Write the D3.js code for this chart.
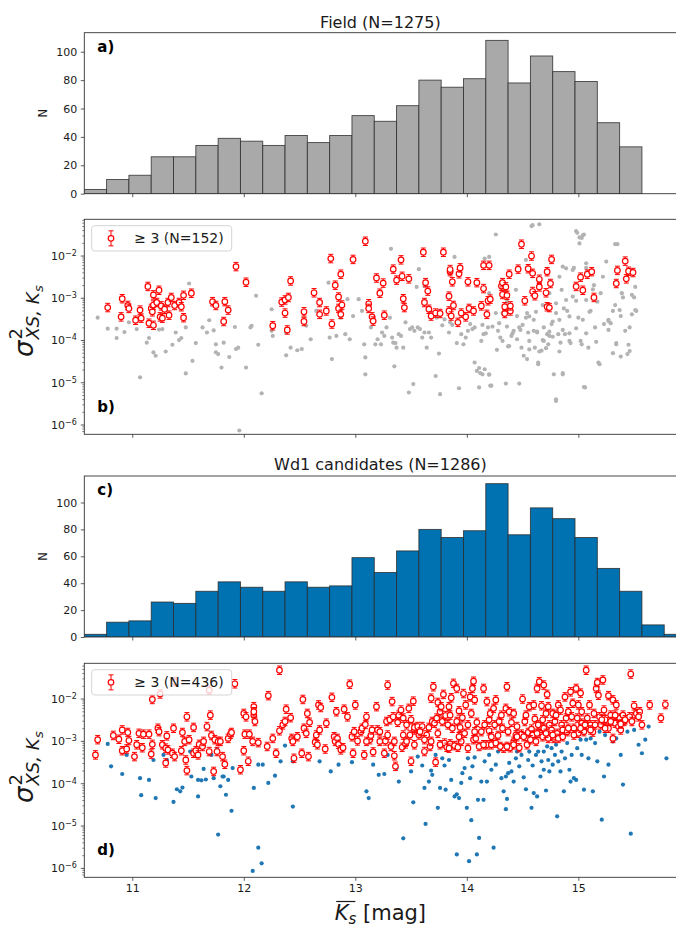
<!DOCTYPE html>
<html><head><meta charset="utf-8">
<script src="https://cdn.jsdelivr.net/npm/d3@7"></script>
<style>body{margin:0;background:#fff} svg{display:block;font-family:"DejaVu Sans",sans-serif}</style>
</head><body><svg id="chart" width="676" height="930"></svg>
<script>
// ---------------- DATA ----------------
const binStart = 10.57, binWidth = 0.2;
const fieldCounts = [3,10,13,26,26,34,39,37,34,41,36,41,55,51,62,80,75,81,108,78,97,86,79,50,33];
const wd1Counts = [2,11,12,26,25,34,41,37,34,41,37,38,59,48,64,80,74,79,114,76,96,88,74,51,34,9,2];
const xTicks = [11,12,13,14,15];
const histTicks = [0,20,40,60,80,100];
const logTickExps = [-6,-5,-4,-3,-2];
const titles = ["Field (N=1275)", "Wd1 candidates (N=1286)"];
const legendLabels = ["\u2265 3 (N=152)", "\u2265 3 (N=436)"];
const errDex = 0.1; // error bar half length (dex)

// [Ks mag, log10 sigma^2]
const fieldRed = [[10.78,-3.22],[10.90,-3.44],[10.91,-3.01],[10.96,-3.17],[10.97,-3.24],[11.03,-3.52],[11.07,-3.28],[11.08,-3.47],[11.14,-2.72],[11.15,-3.59],[11.17,-3.24],[11.18,-3.32],[11.19,-2.92],[11.19,-3.16],[11.19,-3.64],[11.22,-3.10],[11.24,-2.81],[11.25,-3.44],[11.26,-3.18],[11.27,-3.47],[11.29,-3.26],[11.32,-3.10],[11.33,-3.40],[11.35,-2.98],[11.38,-3.17],[11.42,-3.10],[11.44,-3.20],[11.46,-2.93],[11.46,-3.46],[11.53,-2.88],[11.72,-3.08],[11.75,-3.17],[11.83,-3.08],[11.82,-3.55],[11.86,-3.28],[11.93,-2.25],[12.02,-2.62],[12.26,-3.65],[12.37,-3.35],[12.34,-3.09],[12.37,-3.04],[12.40,-2.98],[12.39,-3.75],[12.42,-2.59],[12.54,-3.32],[12.54,-3.55],[12.63,-2.87],[12.68,-3.10],[12.68,-3.38],[12.74,-3.30],[12.78,-2.06],[12.79,-3.61],[12.82,-2.69],[12.85,-2.97],[12.85,-3.24],[12.87,-2.43],[12.87,-3.38],[12.88,-3.16],[12.98,-2.08],[13.09,-1.65],[13.12,-3.13],[13.12,-3.24],[13.15,-3.44],[13.16,-3.54],[13.19,-2.52],[13.22,-2.88],[13.25,-2.64],[13.26,-3.40],[13.34,-2.31],[13.37,-2.57],[13.41,-2.09],[13.42,-2.48],[13.43,-3.01],[13.44,-3.22],[13.48,-2.54],[13.61,-1.91],[13.62,-3.10],[13.63,-2.63],[13.65,-2.83],[13.66,-3.26],[13.68,-3.42],[13.72,-3.35],[13.76,-3.36],[13.79,-1.91],[13.84,-2.95],[13.85,-2.37],[13.85,-2.32],[13.84,-3.30],[13.86,-3.42],[13.87,-2.61],[13.88,-3.17],[13.93,-2.42],[13.94,-2.28],[13.92,-3.57],[13.95,-3.35],[13.99,-3.44],[14.01,-2.61],[14.02,-3.24],[14.06,-3.30],[14.09,-2.63],[14.13,-3.18],[14.15,-2.77],[14.15,-2.22],[14.18,-3.38],[14.20,-2.22],[14.19,-3.06],[14.21,-3.02],[14.31,-2.71],[14.32,-2.63],[14.32,-2.91],[14.34,-3.36],[14.35,-2.73],[14.34,-3.20],[14.36,-2.93],[14.38,-2.43],[14.39,-3.30],[14.39,-3.18],[14.46,-2.31],[14.49,-1.72],[14.52,-3.06],[14.55,-2.30],[14.58,-2.00],[14.59,-2.41],[14.59,-2.84],[14.61,-2.94],[14.65,-2.55],[14.65,-2.73],[14.71,-2.87],[14.72,-2.37],[14.72,-3.20],[14.74,-3.22],[14.75,-2.65],[14.76,-2.08],[14.98,-2.72],[15.02,-2.50],[15.04,-2.81],[15.08,-2.43],[15.12,-2.37],[15.14,-2.98],[15.34,-2.65],[15.35,-2.34],[15.43,-2.54],[15.42,-2.12],[15.45,-2.36],[15.49,-2.39]];

const fieldGray = [[10.69,-3.46],[10.78,-3.72],[10.86,-3.72],[10.86,-3.94],[10.93,-3.80],[10.97,-3.57],[11.04,-3.73],[11.07,-4.87],[11.13,-4.05],[11.15,-3.94],[11.19,-4.28],[11.21,-4.36],[11.24,-3.74],[11.27,-3.73],[11.30,-4.26],[11.36,-4.10],[11.39,-3.81],[11.42,-3.99],[11.44,-3.94],[11.48,-4.78],[11.48,-3.69],[11.51,-2.65],[11.54,-4.48],[11.57,-4.06],[11.63,-3.69],[11.67,-3.81],[11.69,-3.52],[11.73,-3.76],[11.75,-4.09],[11.75,-4.28],[11.77,-4.32],[11.80,-4.64],[11.82,-4.05],[11.87,-4.39],[11.92,-3.68],[11.93,-4.20],[11.95,-4.17],[11.96,-6.13],[12.02,-4.64],[12.06,-3.69],[12.07,-3.65],[12.11,-2.94],[12.13,-4.10],[12.16,-5.25],[12.25,-3.77],[12.26,-3.89],[12.25,-3.26],[12.38,-3.81],[12.38,-4.35],[12.42,-4.17],[12.48,-4.23],[12.52,-4.20],[12.56,-3.65],[12.60,-3.97],[12.65,-3.30],[12.76,-2.63],[12.77,-3.93],[12.79,-4.44],[12.83,-3.89],[12.87,-3.46],[12.91,-3.85],[12.93,-3.02],[12.95,-3.97],[12.98,-3.42],[13.03,-3.02],[13.06,-3.30],[13.08,-4.09],[13.09,-4.40],[13.09,-4.80],[13.14,-3.69],[13.18,-4.09],[13.20,-3.97],[13.23,-4.09],[13.24,-3.81],[13.26,-3.89],[13.28,-3.69],[13.31,-3.46],[13.32,-1.83],[13.33,-3.93],[13.34,-4.05],[13.35,-4.61],[13.36,-4.06],[13.37,-4.17],[13.39,-3.85],[13.41,-3.89],[13.43,-4.17],[13.45,-3.57],[13.48,-5.23],[13.49,-3.73],[13.51,-3.69],[13.52,-5.03],[13.53,-3.77],[13.55,-2.73],[13.56,-3.69],[13.57,-2.31],[13.58,-3.73],[13.60,-3.93],[13.62,-2.71],[13.62,-3.81],[13.64,-4.17],[13.66,-3.81],[13.68,-3.93],[13.72,-4.84],[13.73,-3.46],[13.75,-4.31],[13.76,-5.27],[13.78,-3.64],[13.80,-3.50],[13.84,-3.81],[13.85,-3.57],[13.87,-3.63],[13.89,-2.02],[13.91,-4.06],[13.93,-5.13],[13.95,-3.85],[13.97,-4.09],[13.99,-3.93],[14.01,-3.77],[14.03,-3.61],[14.05,-3.73],[14.07,-3.69],[14.07,-4.52],[14.09,-4.72],[14.11,-5.11],[14.13,-4.01],[14.14,-4.80],[14.15,-3.85],[14.16,-2.06],[14.16,-4.68],[14.19,-3.69],[14.20,-4.80],[14.22,-5.07],[14.26,-1.49],[14.28,-3.77],[14.30,-3.93],[14.32,-4.01],[14.35,-5.02],[14.37,-4.14],[14.40,-3.89],[14.42,-3.77],[14.45,-3.42],[14.45,-3.97],[14.47,-5.02],[14.47,-3.69],[14.49,-4.17],[14.51,-4.36],[14.53,-3.46],[14.55,-3.81],[14.56,-4.01],[14.58,-1.29],[14.60,-3.77],[14.61,-4.17],[14.63,-3.81],[14.64,-4.56],[14.65,-1.25],[14.67,-4.24],[14.69,-4.01],[14.69,-3.69],[14.72,-3.85],[14.73,-4.09],[14.74,-3.89],[14.76,-3.61],[14.78,-4.80],[14.80,-5.43],[14.82,-3.85],[14.84,-4.05],[14.86,-4.80],[14.88,-3.85],[14.90,-3.30],[14.92,-4.01],[14.96,-2.28],[14.98,-3.06],[14.99,-1.45],[15.00,-3.46],[15.02,-4.01],[15.03,-1.57],[15.05,-1.49],[15.06,-5.11],[15.07,-2.28],[15.09,-4.17],[15.11,-3.30],[15.13,-2.79],[15.15,-3.69],[15.19,-4.56],[15.23,-3.61],[15.27,-3.54],[15.31,-3.30],[15.34,-4.09],[15.35,-1.72],[15.38,-3.42],[15.40,-2.98],[15.42,-3.77],[15.44,-4.32],[15.46,-3.69],[15.48,-3.38],[15.50,-2.98],[15.52,-3.30],
[14.59,-1.27],[14.98,-1.41],[15.01,-1.56],[15.04,-1.51],[15.01,-1.70],[15.33,-1.72],[14.20,-2.02],[14.53,-2.09],[14.47,-2.29],[14.86,-2.25],[14.89,-2.29],[14.95,-2.33],[15.07,-2.17],[15.25,-2.13],[15.22,-2.49],[15.14,-2.69],[15.20,-2.88],[15.39,-2.88],[15.51,-2.73],[15.51,-3.28],[15.48,-2.92],[15.33,-3.16],[15.27,-3.51],[15.29,-3.59],[15.27,-3.75],[15.37,-3.28],[15.34,-4.06],[15.45,-4.10],[15.46,-4.25],[15.38,-4.38],[15.31,-4.30],[15.18,-4.52],[15.16,-4.03],[15.07,-3.83],[15.03,-4.09],[14.93,-4.06],[14.83,-4.26],[14.86,-4.77],[14.80,-5.39],[15.05,-5.10],[14.65,-4.26],[14.71,-4.18],[14.64,-4.52],[14.54,-4.44],[14.56,-4.21],[14.38,-4.13],[14.27,-4.22],[14.21,-5.07],[14.20,-4.81],[14.11,-4.65],[14.12,-4.77],
[14.80,-3.35],[14.83,-3.51],[14.77,-3.55],[14.92,-3.43],[14.98,-3.71],[15.04,-3.51],[15.10,-3.32],[15.13,-3.00],[15.17,-3.08],[15.07,-3.04],[14.95,-2.96],[14.89,-3.04],[14.87,-3.24],[14.80,-3.12],[14.74,-2.88],[14.83,-2.49],[14.85,-2.80],[14.68,-3.16],[14.62,-3.32],[14.56,-3.43],[14.50,-3.63],[14.48,-3.75],[14.41,-3.83],[14.36,-3.67],[14.29,-3.59],[14.23,-3.67],[14.17,-3.83],[14.14,-3.63],[14.26,-3.35],[14.32,-3.35],[14.39,-3.28],[14.54,-3.35],[14.60,-3.51],[14.63,-3.79],[14.74,-3.79],[14.77,-3.91],[14.68,-3.99],[14.86,-3.75],[14.92,-3.83],[14.44,-2.80],[14.36,-3.08],[14.20,-2.88]];

const wd1Red = [[10.67,-3.32],[10.69,-2.96],[10.83,-2.86],[10.88,-2.95],[10.91,-2.73],[10.91,-3.22],[10.95,-3.18],[10.96,-2.79],[10.97,-2.98],[11.02,-3.36],[11.04,-3.08],[11.06,-2.81],[11.09,-3.15],[11.10,-2.83],[11.15,-2.83],[11.17,-3.30],[11.18,-3.07],[11.18,-2.01],[11.23,-2.69],[11.24,-2.77],[11.25,-1.88],[11.27,-3.08],[11.30,-3.16],[11.30,-3.51],[11.31,-2.87],[11.32,-3.20],[11.36,-3.28],[11.37,-2.69],[11.38,-3.36],[11.44,-3.22],[11.45,-2.79],[11.47,-3.00],[11.48,-3.44],[11.49,-2.42],[11.49,-3.69],[11.51,-2.96],[11.55,-3.28],[11.55,-2.67],[11.57,-3.22],[11.59,-3.32],[11.60,-3.07],[11.63,-3.12],[11.64,-3.00],[11.67,-2.65],[11.69,-3.24],[11.70,-2.38],[11.71,-2.86],[11.73,-3.71],[11.74,-2.96],[11.76,-3.24],[11.77,-3.00],[11.79,-3.00],[11.81,-3.36],[11.83,-3.54],[11.86,-2.93],[11.88,-2.83],[11.89,-2.79],[11.92,-1.64],[11.97,-3.67],[12.00,-3.22],[12.00,-2.34],[12.01,-2.83],[12.02,-2.42],[12.04,-3.47],[12.05,-2.83],[12.08,-3.00],[12.09,-2.18],[12.09,-2.38],[12.10,-2.53],[12.09,-2.30],[12.13,-3.03],[12.21,-3.12],[12.22,-1.92],[12.26,-2.93],[12.29,-3.28],[12.32,-1.32],[12.32,-2.75],[12.35,-2.61],[12.37,-2.53],[12.38,-2.24],[12.42,-2.44],[12.43,-2.93],[12.44,-3.00],[12.45,-3.40],[12.48,-2.89],[12.52,-3.28],[12.53,-2.01],[12.54,-2.69],[12.56,-2.81],[12.57,-2.34],[12.58,-3.36],[12.59,-2.55],[12.64,-3.02],[12.65,-2.85],[12.66,-3.08],[12.67,-2.14],[12.68,-2.73],[12.69,-2.20],[12.73,-3.18],[12.74,-2.57],[12.79,-1.96],[12.81,-2.89],[12.82,-3.00],[12.83,-2.30],[12.84,-2.93],[12.85,-3.07],[12.87,-3.20],[12.89,-3.15],[12.90,-2.24],[12.93,-2.42],[12.95,-1.65],[12.97,-2.89],[12.98,-3.28],[12.99,-2.77],[13.00,-2.14],[13.02,-2.99],[13.05,-2.77],[13.06,-2.69],[13.08,-3.32],[13.09,-2.60],[13.10,-2.42],[13.13,-2.96],[13.14,-2.86],[13.15,-2.73],[13.16,-3.25],[13.19,-2.18],[13.20,-2.73],[13.22,-3.00],[13.26,-3.28],[13.27,-2.99],[13.28,-2.53],[13.29,-1.67],[13.31,-2.49],[13.32,-3.12],[13.33,-2.06],[13.34,-2.42],[13.35,-3.34],[13.36,-3.59],[13.38,-2.55],[13.39,-2.38],[13.41,-2.26],[13.42,-3.14],[13.43,-2.45],[13.45,-3.06],[13.46,-2.61],[13.48,-2.22],[13.49,-2.85],[13.50,-2.49],[13.50,-3.47],[13.52,-2.05],[13.53,-2.73],[13.53,-2.67],[13.56,-2.65],[13.57,-2.85],[13.60,-2.65],[13.62,-3.24],[13.64,-2.85],[13.66,-2.67],[13.67,-3.12],[13.68,-1.98],[13.69,-2.53],[13.70,-1.71],[13.71,-2.57],[13.72,-3.49],[13.73,-2.45],[13.74,-2.08],[13.76,-2.30],[13.77,-2.18],[13.78,-2.53],[13.79,-1.89],[13.80,-3.04],[13.81,-2.39],[13.82,-3.14],[13.83,-2.61],[13.84,-2.18],[13.85,-2.38],[13.85,-3.06],[13.86,-1.97],[13.87,-2.69],[13.88,-1.63],[13.89,-3.10],[13.91,-1.75],[13.91,-2.53],[13.92,-3.14],[13.93,-2.28],[13.94,-2.67],[13.95,-3.00],[13.96,-2.44],[13.97,-1.87],[13.98,-2.81],[13.99,-2.14],[14.01,-2.61],[14.03,-1.95],[14.04,-2.34],[14.05,-1.75],[14.06,-2.96],[14.06,-1.58],[14.07,-2.02],[14.08,-2.93],[14.09,-2.55],[14.11,-3.12],[14.13,-2.77],[14.15,-1.75],[14.16,-2.61],[14.18,-3.08],[14.18,-2.06],[14.20,-2.49],[14.20,-2.75],[14.21,-2.34],[14.22,-3.08],[14.24,-2.22],[14.25,-2.61],[14.26,-2.02],[14.28,-2.86],[14.29,-2.53],[14.31,-2.38],[14.32,-2.69],[14.33,-3.16],[14.35,-2.22],[14.36,-1.71],[14.37,-2.77],[14.38,-2.30],[14.39,-3.15],[14.40,-2.55],[14.42,-2.34],[14.42,-3.00],[14.44,-2.85],[14.45,-2.65],[14.47,-3.15],[14.49,-2.83],[14.50,-2.00],[14.52,-2.53],[14.53,-2.38],[14.54,-3.08],[14.55,-2.79],[14.56,-2.18],[14.58,-2.71],[14.59,-2.85],[14.60,-2.14],[14.61,-2.47],[14.62,-3.00],[14.63,-1.75],[14.64,-2.61],[14.65,-1.59],[14.66,-2.81],[14.67,-2.16],[14.68,-2.49],[14.69,-1.67],[14.69,-2.69],[14.71,-2.34],[14.72,-1.89],[14.73,-2.93],[14.73,-2.18],[14.74,-2.61],[14.76,-2.73],[14.77,-2.34],[14.78,-2.93],[14.79,-2.53],[14.80,-2.38],[14.81,-2.81],[14.82,-2.14],[14.84,-2.26],[14.85,-2.61],[14.86,-2.73],[14.88,-1.95],[14.89,-2.45],[14.90,-2.77],[14.91,-2.30],[14.93,-1.83],[14.94,-2.42],[14.95,-2.10],[14.96,-2.69],[14.98,-1.75],[14.99,-2.45],[15.00,-2.81],[15.00,-2.14],[15.02,-1.86],[15.03,-2.57],[15.03,-2.30],[15.05,-2.77],[15.07,-1.32],[15.08,-2.45],[15.09,-2.65],[15.10,-2.14],[15.11,-2.61],[15.13,-2.78],[15.14,-2.34],[15.16,-1.75],[15.17,-1.61],[15.18,-1.91],[15.19,-2.42],[15.20,-2.61],[15.22,-1.55],[15.23,-2.26],[15.24,-2.49],[15.27,-1.92],[15.27,-2.69],[15.29,-2.38],[15.31,-2.93],[15.31,-2.02],[15.33,-2.57],[15.34,-2.14],[15.36,-2.65],[15.37,-2.45],[15.38,-2.73],[15.40,-2.38],[15.41,-2.53],[15.47,-1.41],[15.49,-2.42],[15.50,-2.16],[15.52,-2.34],[15.55,-2.30],[15.57,-2.61],[15.64,-2.14],[15.74,-2.45],[15.78,-2.13],[11.69,-1.79],[11.38,-1.59],
[13.76,-3.08],[13.84,-3.16],[13.93,-2.89],[14.01,-3.16],[14.07,-2.77],[14.15,-3.08],[14.22,-2.89],[14.26,-3.04],[14.30,-3.12],[14.36,-3.12],[14.42,-3.08],[14.45,-2.89],[14.51,-2.89],[14.57,-2.96],[14.63,-2.81],[14.68,-2.89],[14.71,-2.81],[14.77,-2.85],[14.82,-2.93],[14.86,-2.89],[14.91,-2.69],[14.96,-2.85],[15.02,-2.69],[15.06,-2.61],[15.11,-2.73],[15.15,-2.61],[15.21,-2.49],[15.24,-2.69],[15.29,-2.53],[15.33,-2.38],[15.38,-2.59],[15.42,-2.49],[15.46,-2.42],[15.48,-2.53],[15.54,-2.42],
[13.10,-3.00],[13.22,-2.77],[13.29,-2.85],[13.35,-3.00],[13.43,-2.85],[13.46,-3.00],[13.53,-3.08],[13.58,-2.77],[13.62,-2.96],[13.68,-3.00],[13.74,-2.81]];

const wd1Blue = [[10.78,-3.06],[10.81,-3.59],[10.91,-3.77],[10.95,-3.32],[11.07,-3.87],[11.08,-4.27],[11.15,-3.91],[11.19,-3.44],[11.21,-4.34],[11.28,-3.32],[11.31,-3.44],[11.37,-4.43],[11.40,-4.13],[11.43,-4.18],[11.45,-4.09],[11.52,-3.24],[11.53,-3.83],[11.59,-4.30],[11.59,-3.91],[11.62,-3.92],[11.64,-3.65],[11.66,-3.90],[11.71,-3.32],[11.73,-3.87],[11.76,-3.18],[11.77,-5.20],[11.79,-4.06],[11.81,-3.83],[11.82,-3.83],[11.84,-4.26],[11.86,-3.91],[11.89,-4.64],[11.90,-3.63],[12.08,-6.06],[12.09,-4.10],[12.13,-5.51],[12.13,-3.55],[12.16,-5.88],[12.17,-3.55],[12.22,-3.98],[12.28,-3.81],[12.33,-3.47],[12.37,-3.10],[12.44,-4.54],[12.44,-3.47],[12.68,-3.47],[12.78,-3.71],[12.85,-3.55],[12.97,-3.49],[13.10,-4.18],[13.12,-4.34],[13.16,-3.55],[13.21,-3.79],[13.26,-3.77],[13.29,-3.32],[13.37,-3.63],[13.39,-3.95],[13.43,-5.29],[13.50,-3.71],[13.52,-4.44],[13.56,-3.36],[13.60,-3.57],[13.62,-4.10],[13.63,-4.95],[13.66,-3.95],[13.68,-3.69],[13.69,-3.79],[13.72,-3.32],[13.74,-4.57],[13.76,-4.10],[13.78,-3.40],[13.80,-3.57],[13.81,-4.14],[13.84,-3.44],[13.86,-3.91],[13.89,-4.30],[13.91,-5.67],[13.91,-4.25],[13.93,-4.34],[13.95,-3.98],[13.96,-3.75],[13.98,-3.63],[14.00,-4.57],[14.01,-3.40],[14.02,-5.83],[14.03,-3.87],[14.04,-4.86],[14.05,-3.59],[14.07,-3.38],[14.09,-5.67],[14.10,-4.38],[14.11,-5.28],[14.13,-3.95],[14.15,-4.38],[14.16,-3.47],[14.18,-3.95],[14.20,-3.32],[14.22,-3.67],[14.24,-5.51],[14.26,-3.55],[14.28,-3.24],[14.31,-3.87],[14.33,-4.18],[14.35,-3.83],[14.35,-4.60],[14.36,-4.36],[14.37,-3.75],[14.38,-3.51],[14.40,-3.71],[14.42,-3.95],[14.44,-3.40],[14.45,-3.24],[14.47,-3.59],[14.49,-3.32],[14.51,-3.85],[14.53,-4.13],[14.55,-3.44],[14.56,-3.24],[14.58,-4.57],[14.59,-3.57],[14.60,-4.22],[14.62,-3.32],[14.63,-4.30],[14.64,-3.24],[14.66,-3.83],[14.67,-3.47],[14.69,-3.24],[14.69,-3.67],[14.71,-4.16],[14.72,-3.12],[14.73,-3.44],[14.74,-3.71],[14.76,-3.16],[14.77,-3.55],[14.79,-3.32],[14.80,-3.08],[14.81,-4.77],[14.82,-3.47],[14.84,-3.71],[14.85,-3.24],[14.87,-4.18],[14.88,-3.40],[14.90,-3.04],[14.92,-3.67],[14.93,-3.95],[14.94,-3.32],[14.96,-3.87],[14.98,-3.91],[14.99,-3.16],[15.02,-2.96],[15.03,-3.32],[15.05,-4.14],[15.07,-2.96],[15.09,-3.40],[15.11,-2.93],[15.13,-4.18],[15.15,-3.04],[15.17,-3.47],[15.19,-2.77],[15.21,-4.85],[15.23,-3.83],[15.24,-2.85],[15.27,-3.55],[15.31,-3.00],[15.34,-2.93],[15.38,-3.32],[15.40,-4.02],[15.44,-2.77],[15.47,-5.18],[15.50,-2.73],[15.54,-3.08],[15.57,-3.28],[15.60,-2.96],[15.63,-2.65],[15.79,-3.40]];

// ---------------- LAYOUT ----------------
const svg = d3.select("#chart");
const L = 84.3, R = 676.5;
const x = d3.scaleLinear().domain([10.57, 15.88]).range([L, R]);
const panels = {
  a: {top: 32.7, bottom: 193.7},
  b: {top: 219.3, bottom: 434.3},
  c: {top: 476, bottom: 637},
  d: {top: 663.3, bottom: 877.3}
};
const TXT = "#1a1a1a", SPINE = "#333";

function clip(id, p) {
  svg.append("clipPath").attr("id", id).append("rect")
    .attr("x", L).attr("y", p.top).attr("width", R - L).attr("height", p.bottom - p.top);
}

function xAxis(p, labels) {
  const g = svg.append("g").attr("transform", `translate(0,${p.bottom})`)
    .call(d3.axisBottom(x).tickValues(xTicks).tickSize(3.5).tickPadding(3.5)
      .tickFormat(labels ? d3.format("d") : ""));
  g.select(".domain").remove();
  g.selectAll("line").attr("stroke", SPINE).attr("stroke-width", 0.8);
  g.selectAll("text").attr("font-size", 11).attr("fill", TXT).attr("font-family", "DejaVu Sans");
}

function frame(p) {
  svg.append("rect").attr("x", L).attr("y", p.top).attr("width", R - L).attr("height", p.bottom - p.top)
    .attr("fill", "none").attr("stroke", SPINE).attr("stroke-width", 0.9);
}

function panelLabel(txt, px, py) {
  svg.append("text").attr("x", px).attr("y", py).attr("font-size", 15).attr("font-weight", "bold")
    .attr("fill", "#000").text(txt);
}

function histogram(p, counts, yMax, fill, id) {
  const y = d3.scaleLinear().domain([0, yMax]).range([p.bottom, p.top]);
  clip(id, p);
  const edges = counts.map((c, i) => binStart + i * binWidth);
  svg.append("g").attr("clip-path", `url(#${id})`).selectAll("rect").data(counts).join("rect")
    .attr("x", (d, i) => x(edges[i]))
    .attr("width", (d, i) => x(edges[i] + binWidth) - x(edges[i]))
    .attr("y", d => y(d)).attr("height", d => y(0) - y(d))
    .attr("fill", fill).attr("stroke", "#2a2a2a").attr("stroke-opacity", 0.85).attr("stroke-width", 0.9);
  const g = svg.append("g").attr("transform", `translate(${L},0)`)
    .call(d3.axisLeft(y).tickValues(histTicks).tickSize(3.5).tickPadding(3.5).tickFormat(d3.format("d")));
  g.select(".domain").remove();
  g.selectAll("line").attr("stroke", SPINE).attr("stroke-width", 0.8);
  g.selectAll("text").attr("font-size", 11).attr("fill", TXT).attr("font-family", "DejaVu Sans");
  xAxis(p, false);
  frame(p);
  svg.append("text").attr("transform", `translate(47.3,${(p.top + p.bottom) / 2}) rotate(-90)`)
    .attr("text-anchor", "middle").attr("font-size", 11.5).attr("fill", TXT).text("N");
}

function logPanel(p, dom, bg, bgColor, red, id, legendText, labelY, xLabels) {
  const y = d3.scaleLog().domain(dom).range([p.bottom, p.top]);
  clip(id, p);
  const gc = svg.append("g").attr("clip-path", `url(#${id})`);
  gc.selectAll("circle.bg").data(bg).join("circle").attr("class", "bg")
    .attr("cx", d => x(d[0])).attr("cy", d => y(Math.pow(10, d[1]))).attr("r", 2.1)
    .attr("fill", bgColor);
  const rg = gc.selectAll("g.r").data(red).join("g").attr("class", "r");
  rg.append("line").attr("x1", d => x(d[0])).attr("x2", d => x(d[0]))
    .attr("y1", d => y(Math.pow(10, d[1] - errDex))).attr("y2", d => y(Math.pow(10, d[1] + errDex)))
    .attr("stroke", "red").attr("stroke-width", 1);
  [-errDex, errDex].forEach(e => {
    rg.append("line").attr("x1", d => x(d[0]) - 2.5).attr("x2", d => x(d[0]) + 2.5)
      .attr("y1", d => y(Math.pow(10, d[1] + e))).attr("y2", d => y(Math.pow(10, d[1] + e)))
      .attr("stroke", "red").attr("stroke-width", 1);
  });
  rg.append("circle").attr("cx", d => x(d[0])).attr("cy", d => y(Math.pow(10, d[1]))).attr("r", 2.8)
    .attr("fill", "#fff").attr("stroke", "red").attr("stroke-width", 1.2);

  // y axis: major + minor ticks
  const ga = svg.append("g");
  const lo = Math.log10(dom[0]), hi = Math.log10(dom[1]);
  for (let k = Math.floor(lo); k <= Math.ceil(hi); k++) {
    for (let m = 1; m <= 9; m++) {
      const v = m * Math.pow(10, k), lv = Math.log10(v);
      if (lv < lo || lv > hi) continue;
      const yy = y(v);
      ga.append("line").attr("x1", L).attr("x2", L - (m === 1 ? 3.5 : 2)).attr("y1", yy).attr("y2", yy)
        .attr("stroke", SPINE).attr("stroke-width", m === 1 ? 0.8 : 0.6);
    }
  }
  logTickExps.forEach(k => {
    const t = ga.append("text").attr("x", L - 7.5).attr("y", y(Math.pow(10, k))).attr("dy", "0.36em")
      .attr("text-anchor", "end").attr("font-size", 11).attr("fill", TXT);
    t.append("tspan").text("10");
    t.append("tspan").attr("dy", "-0.5em").attr("font-size", 8).text("\u2212" + Math.abs(k));
  });
  xAxis(p, xLabels);
  frame(p);

  // legend
  const lx = 91.7, ly = p.top + 6.4, lw = 140, lh = 25.3;
  svg.append("rect").attr("x", lx).attr("y", ly).attr("width", lw).attr("height", lh).attr("rx", 3)
    .attr("fill", "#fff").attr("fill-opacity", 0.8).attr("stroke", "#d0d0d0").attr("stroke-width", 0.9);
  const mx = 111, my = ly + lh / 2;
  svg.append("line").attr("x1", mx).attr("x2", mx).attr("y1", my - 7.5).attr("y2", my + 7.5)
    .attr("stroke", "red").attr("stroke-width", 1);
  [-7.5, 7.5].forEach(o => svg.append("line").attr("x1", mx - 2.5).attr("x2", mx + 2.5)
    .attr("y1", my + o).attr("y2", my + o).attr("stroke", "red").attr("stroke-width", 1));
  svg.append("circle").attr("cx", mx).attr("cy", my).attr("r", 2.8).attr("fill", "#fff")
    .attr("stroke", "red").attr("stroke-width", 1.2);
  svg.append("text").attr("x", 134.3).attr("y", my + 5).attr("font-size", 14).attr("fill", TXT).text(legendText);

  // y label: sigma^2_{XS, K_s}
  const lg = svg.append("g").attr("transform", `translate(33,${labelY}) rotate(-90)`);
  const s = lg.append("text").attr("x", 0).attr("y", 0).attr("font-size", 26).attr("font-style", "italic")
    .attr("fill", TXT).text("\u03c3");
  const sw = s.node().getComputedTextLength();
  lg.append("text").attr("x", sw + 1).attr("y", -11).attr("font-size", 18).attr("fill", TXT).text("2");
  const sub = lg.append("text").attr("x", sw + 1).attr("y", 6).attr("font-size", 18).attr("font-style", "italic")
    .attr("fill", TXT).text("XS, K");
  const subw = sub.node().getComputedTextLength();
  lg.append("text").attr("x", sw + 1 + subw + 0.5).attr("y", 10).attr("font-size", 13).attr("font-style", "italic")
    .attr("fill", TXT).text("s");
}

// titles
svg.append("text").attr("x", (L + R) / 2).attr("y", 27.5).attr("text-anchor", "middle").attr("font-size", 16)
  .attr("fill", TXT).text(titles[0]);
svg.append("text").attr("x", (L + R) / 2).attr("y", 469.5).attr("text-anchor", "middle").attr("font-size", 16)
  .attr("fill", TXT).text(titles[1]);

histogram(panels.a, fieldCounts, 113.4, "#a9a9a9", "clipA");
panelLabel("a)", 97.3, panels.a.top + 18.8);
logPanel(panels.b, [Math.pow(10, -6.22), Math.pow(10, -1.13)], fieldGray, "#b3b3b3", fieldRed, "clipB",
  legendLabels[0], 357, false);
panelLabel("b)", 97.3, panels.b.bottom - 22.8);

histogram(panels.c, wd1Counts, 119.7, "#0072b2", "clipC");
panelLabel("c)", 97.3, panels.c.top + 19);
logPanel(panels.d, [Math.pow(10, -6.21), Math.pow(10, -1.156)], wd1Blue, "#1f77b4", wd1Red, "clipD",
  legendLabels[1], 803, true);
panelLabel("d)", 97.3, panels.d.bottom - 22.8);

// x label: overline K_s [mag]
const xl = svg.append("g");
const baseY = 920;
const kT = xl.append("text").attr("y", baseY).attr("font-size", 21).attr("font-style", "italic").attr("fill", TXT).text("K");
const kw = kT.node().getComputedTextLength();
const sT = xl.append("text").attr("y", baseY + 3.5).attr("font-size", 15).attr("font-style", "italic").attr("fill", TXT).text("s");
const sw2 = sT.node().getComputedTextLength();
const mT = xl.append("text").attr("y", baseY).attr("font-size", 21).attr("fill", TXT).style("white-space", "pre").text(" [mag]");
const mw = mT.node().getComputedTextLength();
const total = kw + sw2 + mw;
const x0 = (L + R) / 2 - total / 2;
kT.attr("x", x0); sT.attr("x", x0 + kw); mT.attr("x", x0 + kw + sw2);
xl.append("line").attr("x1", x0 + 1.5).attr("x2", x0 + kw + sw2 - 1).attr("y1", baseY - 18.5).attr("y2", baseY - 18.5)
  .attr("stroke", TXT).attr("stroke-width", 1.2);
</script></body></html>
